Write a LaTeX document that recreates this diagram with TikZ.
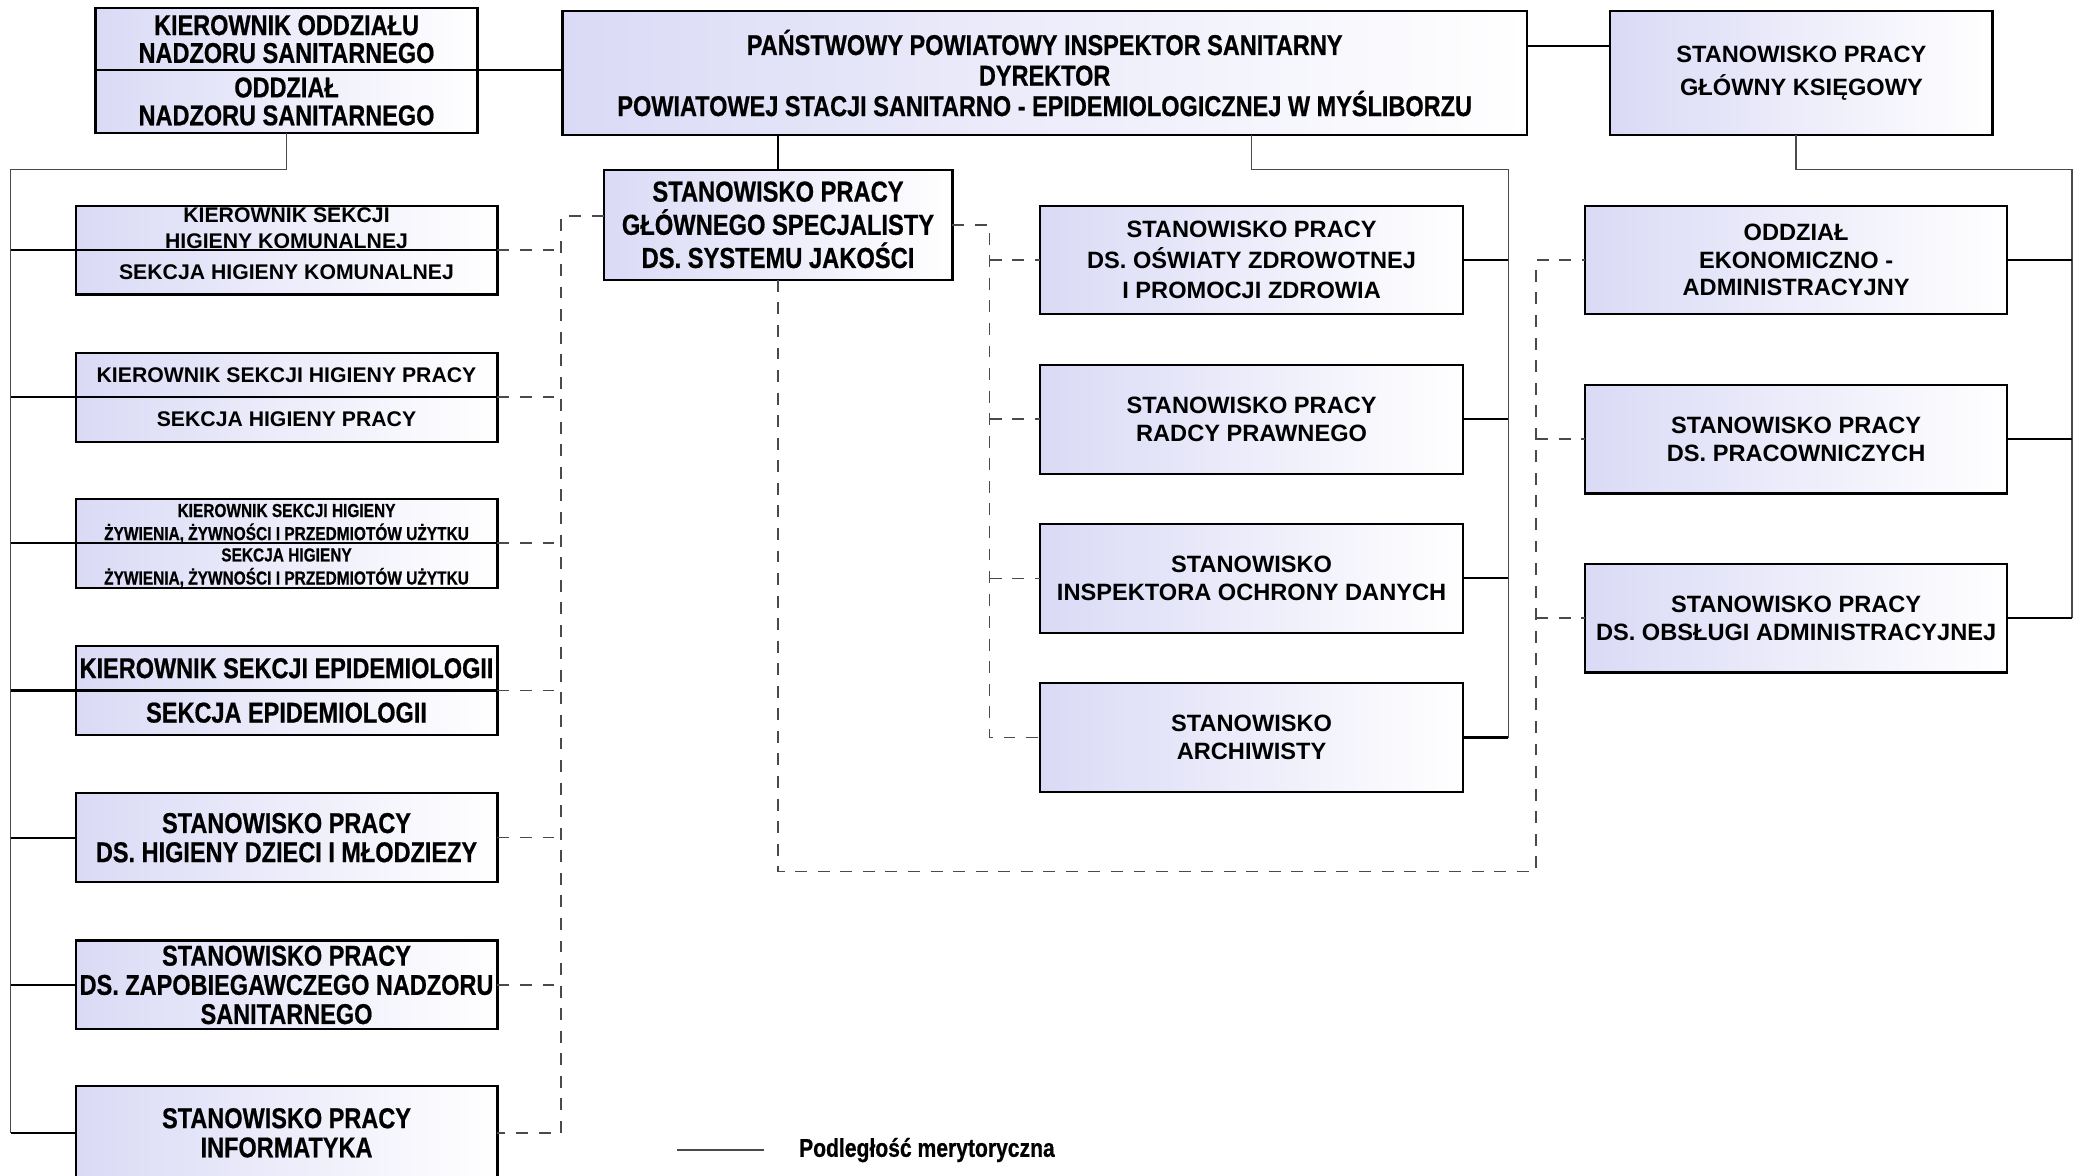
\documentclass[tikz,border=0pt]{standalone}
\usepackage{fontspec}
\setmainfont{Liberation Sans}
\newfontfamily\narrowfont[FakeStretch=0.82, FakeBold=0.6]{Liberation Sans}
\usepackage{xcolor}
\definecolor{BoxLilac}{HTML}{DADAF6}
\definecolor{LineGray}{HTML}{4A4A4A}
\usetikzlibrary{calc}
\usetikzlibrary{positioning}
\newcommand\tightlines[1]{\smash{\raisebox{-3pt}{\begin{tabular}{@{}c@{}}#1\end{tabular}}}}

\begin{document}
\begin{tikzpicture}[x=0.5pt, y=-0.5pt,
    box/.style={draw, line width=0.8pt, outer sep=0pt, inner sep=0.5pt,
      align=center, left color=BoxLilac, right color=white},
    dims/.style 2 args={minimum width=#1*0.5pt, minimum height=#2*0.5pt},
    widetext/.style={font=\bfseries\fontsize{8.9}{10.5}\selectfont},
    smalltext/.style={font=\bfseries\fontsize{8}{9.5}\selectfont},
    narrowtext/.style={font=\narrowfont\bfseries\fontsize{10.8}{11}\selectfont},
    minitext/.style={font=\narrowfont\bfseries\fontsize{7.1}{8}\selectfont},
    bus/.style={draw=LineGray, line width=0.5pt},
    conn/.style={draw=black, line width=0.8pt},
    dashline/.style={draw=LineGray, line width=0.6pt, dash pattern=on 4.5pt off 4pt}]

    \path [use as bounding box] (0,0) rectangle (1568,886);
    \clip (0,0) rectangle (1568,886);

    \node[name=oddzA, box, dims={288}{47}, narrowtext,
      font=\narrowfont\bfseries\fontsize{10.8}{10.5}\selectfont]
      at (216,29.5) {KIEROWNIK ODDZIAŁU\\NADZORU SANITARNEGO};

    \node[name=oddzB, box, dims={288}{47}, narrowtext,
      font=\narrowfont\bfseries\fontsize{10.8}{10.5}\selectfont,
      below=0pt of oddzA] {ODDZIAŁ\\NADZORU SANITARNEGO};

    \node[name=main, box, dims={727}{94},
      font=\narrowfont\bfseries\fontsize{10.8}{11.5}\selectfont]
      at (787.5,55) {PAŃSTWOWY POWIATOWY INSPEKTOR SANITARNY\\DYREKTOR\\POWIATOWEJ STACJI SANITARNO - EPIDEMIOLOGICZNEJ W MYŚLIBORZU};

    \node[name=ksieg, box, dims={288}{94},
      font=\bfseries\fontsize{8.9}{12.5}\selectfont]
      at (1358,55) {STANOWISKO PRACY\\GŁÓWNY KSIĘGOWY};

    \node[name=spec, box, dims={263}{83},
      font=\narrowfont\bfseries\fontsize{10.9}{12.5}\selectfont]
      at (586.5,169.5) {STANOWISKO PRACY\\GŁÓWNEGO SPECJALISTY\\DS. SYSTEMU JAKOŚCI};

    \node[name=komA, box, dims={318}{33.5}, smalltext, inner sep=0pt]
      at (216,171.75) {\tightlines{KIEROWNIK SEKCJI\\HIGIENY KOMUNALNEJ}};
    \node[name=komB, box, dims={318}{33.5}, smalltext,
      below=0pt of komA] {SEKCJA HIGIENY KOMUNALNEJ};

    \node[name=pracA, box, dims={318}{33.5}, smalltext,
      below=22pt of komB] {KIEROWNIK SEKCJI HIGIENY PRACY};
    \node[name=pracB, box, dims={318}{33.5}, smalltext,
      below=0pt of pracA] {SEKCJA HIGIENY PRACY};

    \node[name=zywA, box, dims={318}{33.5}, minitext, inner sep=0pt,
      below=21.5pt of pracB] {\tightlines{KIEROWNIK SEKCJI HIGIENY\\ŻYWIENIA, ŻYWNOŚCI I PRZEDMIOTÓW UŻYTKU}};
    \node[name=zywB, box, dims={318}{33.5}, minitext, inner sep=0pt,
      below=0pt of zywA] {\tightlines{SEKCJA HIGIENY\\ŻYWIENIA, ŻYWNOŚCI I PRZEDMIOTÓW UŻYTKU}};

    \node[name=epiA, box, dims={318}{33.5}, narrowtext,
      below=22pt of zywB] {KIEROWNIK SEKCJI EPIDEMIOLOGII};
    \node[name=epiB, box, dims={318}{33.5}, narrowtext,
      below=0pt of epiA] {SEKCJA EPIDEMIOLOGII};

    \node[name=dzieci, box, dims={318}{67}, narrowtext,
      below=22pt of epiB] {STANOWISKO PRACY\\DS. HIGIENY DZIECI I MŁODZIEZY};

    \node[name=zapob, box, dims={318}{67}, narrowtext,
      below=22pt of dzieci] {STANOWISKO PRACY\\DS. ZAPOBIEGAWCZEGO NADZORU\\SANITARNEGO};

    \node[name=inform, box, dims={318}{70}, narrowtext,
      below=21.5pt of zapob] {STANOWISKO PRACY\\INFORMATYKA};

    \node[name=oswiata, box, dims={319}{82}, widetext,
      font=\bfseries\fontsize{8.9}{11.5}\selectfont]
      at (943.5,196) {STANOWISKO PRACY\\DS. OŚWIATY ZDROWOTNEJ\\I PROMOCJI ZDROWIA};
    \node[name=radcy, box, dims={319}{82}, widetext,
      below=19pt of oswiata] {STANOWISKO PRACY\\RADCY PRAWNEGO};
    \node[name=inspekt, box, dims={319}{82}, widetext,
      below=19pt of radcy] {STANOWISKO\\INSPEKTORA OCHRONY DANYCH};
    \node[name=archiw, box, dims={319}{82}, widetext,
      below=19pt of inspekt] {STANOWISKO\\ARCHIWISTY};

    \node[name=ekonom, box, dims={318}{82}, widetext]
      at (1354,196) {ODDZIAŁ\\EKONOMICZNO -\\ADMINISTRACYJNY};
    \node[name=pracown, box, dims={318}{82}, widetext,
      below=26.5pt of ekonom] {STANOWISKO PRACY\\DS. PRACOWNICZYCH};
    \node[name=obsluga, box, dims={318}{82}, widetext,
      below=26.5pt of pracown] {STANOWISKO PRACY\\DS. OBSŁUGI ADMINISTRACYJNEJ};

    \node[name=legend, anchor=west, inner sep=0pt,
      font=\narrowfont\bfseries\fontsize{9.7}{11}\selectfont]
      at (602,867) {Podległość merytoryczna};

    \coordinate (lbus) at (8,128);
    \coordinate (ldash) at (423,163);
    \coordinate (mdash) at (746,170);
    \coordinate (mbus) at (1137,128);
    \coordinate (bdash) at (1158,657);
    \coordinate (rbus) at (1562,128);

    \draw[conn] (oddzA.south east) -- (oddzA.south east -| main.west);
    \draw[conn] (main.east) ++(0,-20) coordinate (mk) -- (mk -| ksieg.west);
    \draw[conn] (main.south -| spec.north) -- (spec.north);

    \draw[bus] (oddzB.south) |- (lbus) -- (lbus |- inform.west);
    \foreach \n in {komA, pracA, zywA, epiA}
      \draw[conn] (\n.south west -| lbus) -- (\n.south west);
    \foreach \n in {dzieci, zapob, inform}
      \draw[conn] (\n.west -| lbus) -- (\n.west);

    \draw[dashline] (spec.west |- ldash) -- (ldash) |- (inform.east);
    \foreach \n in {komA, pracA, zywA, epiA}
      \draw[dashline] (\n.south east) -- (\n.south east -| ldash);
    \foreach \n in {dzieci, zapob}
      \draw[dashline] (\n.east) -- (\n.east -| ldash);

    \draw[dashline] (spec.east) -- (spec.east -| mdash) |- (archiw.west);
    \foreach \n in {oswiata, radcy, inspekt}
      \draw[dashline] (\n.west -| mdash) -- (\n.west);

    \draw[dashline] (spec.south) |- (bdash) |- (ekonom.west);
    \foreach \n in {pracown, obsluga}
      \draw[dashline] (\n.west -| bdash) -- (\n.west);

    \draw[bus] (main.south -| oswiata.north) |- (mbus) -- (mbus |- archiw.east);
    \foreach \n in {oswiata, radcy, inspekt, archiw}
      \draw[conn] (\n.east) -- (\n.east -| mbus);

    \draw[bus] (ksieg.south -| ekonom.north) |- (rbus) -- (rbus |- obsluga.east);
    \foreach \n in {ekonom, pracown, obsluga}
      \draw[conn] (\n.east) -- (\n.east -| rbus);

    \draw[bus] ([xshift=-13pt]legend.west) -- ++(-66,0);
  \end{tikzpicture}
\end{document}
